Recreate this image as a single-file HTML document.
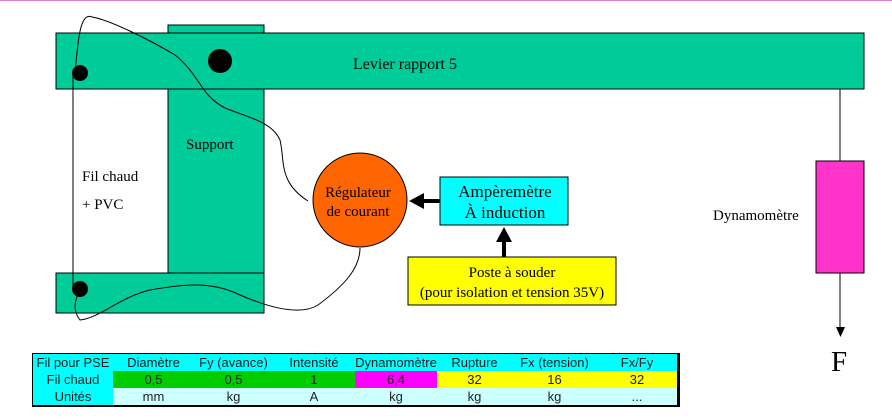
<!DOCTYPE html>
<html><head><meta charset="utf-8"><style>
body{margin:0;width:892px;height:420px;background:#fff;overflow:hidden;position:relative}
svg{position:absolute;left:0;top:0}
.t{font-family:"Liberation Serif",serif}
table{position:absolute;left:32px;top:353px;border-collapse:collapse;font-family:"Liberation Sans",sans-serif;font-size:13px;border:1px solid #000;border-right:3px solid #000;border-bottom:2px solid #000}
td{height:17px;padding:0;text-align:center;line-height:17px;color:#222}
</style></head><body>
<svg width="892" height="420">
<rect x="0" y="0" width="892" height="1" fill="#e080c8"/>
<rect x="168" y="25" width="96" height="248" fill="#00cc99" stroke="#000"/>
<rect x="56" y="33" width="808" height="56" fill="#00cc99" stroke="#000"/>
<rect x="56" y="273" width="208" height="40" fill="#00cc99" stroke="#000"/>
<line x1="73" y1="73" x2="73" y2="289" stroke="#000"/>
<circle cx="80" cy="73" r="8"/>
<circle cx="220" cy="61" r="12"/>
<circle cx="80" cy="289" r="8"/>
<path d="M75,73 C78,40 80,12 92,17 C110,20 150,40 175,55 C200,75 200,95 225,108 C250,118 272,122 280,140 C285,160 278,182 308,201" fill="none" stroke="#000"/>
<path d="M360,248 C360,268 345,285 318,305 C300,316 270,308 240,295 C210,280 180,285 150,290 C120,297 100,318 80,320 C72,310 75,300 80,289" fill="none" stroke="#000"/>
<circle cx="360" cy="200" r="47" fill="#ff6600" stroke="#000"/>
<text class="t" x="358" y="197" font-size="15" text-anchor="middle">Régulateur</text>
<text class="t" x="358" y="216" font-size="15" text-anchor="middle">de courant</text>
<rect x="440" y="177" width="128" height="48" fill="#00ffff" stroke="#000"/>
<text class="t" x="505" y="197" font-size="17" text-anchor="middle">Ampèremètre</text>
<text class="t" x="505" y="218" font-size="17" text-anchor="middle">À induction</text>
<line x1="440" y1="201" x2="420" y2="201" stroke="#000" stroke-width="4"/>
<polygon points="409,201 424,193 424,209"/>
<rect x="408" y="257" width="208" height="48" fill="#ffff00" stroke="#000"/>
<text class="t" x="512" y="277" font-size="15" text-anchor="middle">Poste à souder</text>
<text class="t" x="512" y="297" font-size="15" text-anchor="middle">(pour isolation et tension 35V)</text>
<line x1="504" y1="257" x2="504" y2="238" stroke="#000" stroke-width="4"/>
<polygon points="504,227 496,242 512,242"/>
<line x1="840" y1="89" x2="840" y2="330" stroke="#000"/>
<rect x="816" y="161" width="48" height="112" fill="#ff33cc" stroke="#000"/>
<polygon points="836,327 845,327 840.5,337"/>
<text class="t" x="353" y="69" font-size="16">Levier rapport 5</text>
<text class="t" x="186" y="149" font-size="15">Support</text>
<text class="t" x="82" y="181" font-size="15">Fil chaud</text>
<text class="t" x="82" y="209" font-size="15">+ PVC</text>
<text class="t" x="713" y="220" font-size="15">Dynamomètre</text>
<text class="t" x="831" y="371" font-size="29">F</text>
</svg>
<table>
<tr style="background:#00ffff"><td style="width:80px">Fil pour PSE</td><td style="width:81px">Diamètre</td><td style="width:79px">Fy (avance)</td><td style="width:82px">Intensité</td><td style="width:82px">Dynamomètre</td><td style="width:75px">Rupture</td><td style="width:85px">Fx (tension)</td><td style="width:80px">Fx/Fy</td></tr>
<tr><td style="background:#00ffff">Fil chaud</td><td style="background:#00cc00">0,5</td><td style="background:#00cc00">0,5</td><td style="background:#00cc00">1</td><td style="background:#ff00ff">6,4</td><td style="background:#ffff00">32</td><td style="background:#ffff00">16</td><td style="background:#ffff00">32</td></tr>
<tr style="background:#ccffff"><td style="background:#00ffff">Unités</td><td>mm</td><td>kg</td><td>A</td><td>kg</td><td>kg</td><td>kg</td><td>...</td></tr>
</table>
</body></html>
